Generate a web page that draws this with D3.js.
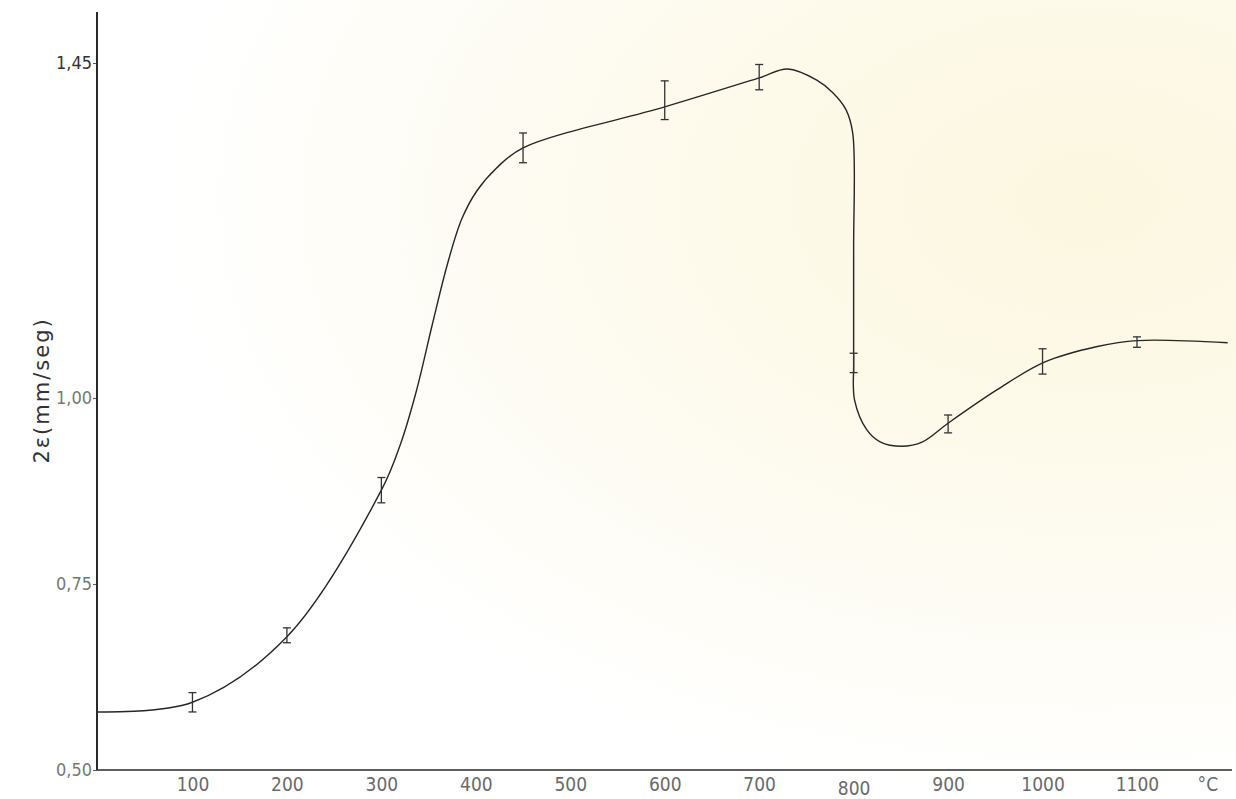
<!DOCTYPE html>
<html>
<head>
<meta charset="utf-8">
<script src="https://cdn.jsdelivr.net/npm/d3@7"></script>
<style>
  html, body { margin: 0; padding: 0; background: #fff; }
  svg { display: block; }
  .tick-label { font-family: "Liberation Sans Narrow", "DejaVu Sans Condensed", "Liberation Sans", sans-serif; }
</style>
</head>
<body>
<svg id="chart" width="1236" height="799"></svg>
<script>
// Measured points: temperature (°C), mean value and half-length of the error bar
const temps = [100, 200, 300, 450, 600, 700, 800, 900, 1000, 1100];
const means = [0.591, 0.681, 0.876, 1.336, 1.400, 1.431, 1.047, 0.965, 1.049, 1.075];
const errs  = [0.013, 0.010, 0.017, 0.020, 0.026, 0.017, 0.013, 0.012, 0.017, 0.007];

// Hand-drawn trend curve through the measurements
const curveT = [0, 100, 200, 300, 320, 337, 354, 370, 385, 401, 422, 450, 600, 700, 730, 761, 778, 792, 799, 800, 800, 801, 814, 828, 851, 873, 900, 952, 1002, 1058, 1100, 1196];
const curveV = [0.578, 0.591, 0.679, 0.876, 0.937, 1.009, 1.099, 1.180, 1.240, 1.278, 1.309, 1.336, 1.391, 1.430, 1.442, 1.427, 1.410, 1.387, 1.356, 1.199, 1.048, 0.997, 0.957, 0.941, 0.935, 0.941, 0.966, 1.011, 1.048, 1.069, 1.077, 1.074];

// Axis ticks
const xTicks = [100, 200, 300, 400, 500, 600, 700, 800, 900, 1000, 1100];
const yTicks = [0.50, 0.75, 1.00, 1.45];
const yTitle = "2ε(mm/seg)";
const xUnit = "°C";

const svg = d3.select("#chart");
const W = 1236, H = 799;

// Faint aged-paper tint toward the right
const defs = svg.append("defs");
const grad = defs.append("radialGradient").attr("id", "paper")
  .attr("cx", "88%").attr("cy", "25%").attr("r", "75%");
grad.append("stop").attr("offset", "0%").attr("stop-color", "#fcf7df");
grad.append("stop").attr("offset", "55%").attr("stop-color", "#fdfbef");
grad.append("stop").attr("offset", "100%").attr("stop-color", "#ffffff");
svg.append("rect").attr("width", W).attr("height", H).attr("fill", "url(#paper)");

const x = d3.scaleLinear().domain([0, 1100]).range([98, 1137]);
const y = d3.scaleLinear().domain([0.5, 1.45]).range([770, 63]);

const axisX0 = 97, axisYTop = 12, axisXEnd = 1232;

// X axis
const gx = svg.append("g").attr("transform", `translate(0,${y(0.5)})`)
  .call(d3.axisBottom(x).tickValues(xTicks).tickSize(0).tickPadding(7).tickFormat(d3.format("d")));
gx.select(".domain").remove();
gx.append("line").attr("x1", axisX0).attr("x2", axisXEnd).attr("y1", 0).attr("y2", 0)
  .attr("stroke", "#2a2a2a").attr("stroke-width", 1.6);
gx.selectAll(".tick text")
  .attr("class", "tick-label")
  .attr("font-size", 19)
  .attr("fill", "#6a6a6a")
  .attr("dy", d => d === 800 ? "0.95em" : "0.75em");

svg.append("text").attr("class", "tick-label")
  .attr("x", x(1175)).attr("y", y(0.5) + 7).attr("dy", "0.75em")
  .attr("text-anchor", "middle").attr("font-size", 19).attr("fill", "#6a6a6a")
  .text(xUnit);

// Y axis
const gy = svg.append("g").attr("transform", `translate(${axisX0},0)`)
  .call(d3.axisLeft(y).tickValues(yTicks).tickSize(4).tickPadding(1)
    .tickFormat(d => d3.format(".2f")(d).replace(".", ",")));
gy.select(".domain").remove();
gy.append("line").attr("x1", 0).attr("x2", 0).attr("y1", axisYTop).attr("y2", y(0.5))
  .attr("stroke", "#2a2a2a").attr("stroke-width", 2);
gy.selectAll(".tick line").attr("stroke", "#555");
gy.selectAll(".tick text")
  .attr("class", "tick-label")
  .attr("font-size", 18)
  .attr("fill", d => d === 1.45 ? "#333" : "#777");

svg.append("text")
  .attr("transform", `translate(49,${y(1.01)}) rotate(-90)`)
  .attr("text-anchor", "middle")
  .attr("font-family", "'DejaVu Sans', sans-serif")
  .attr("font-size", 21).attr("letter-spacing", 2).attr("fill", "#333")
  .text(yTitle);

// Trend curve
const pts = curveT.map((t, i) => [t, curveV[i]]);
svg.append("path")
  .datum(pts)
  .attr("fill", "none")
  .attr("stroke", "#262626")
  .attr("stroke-width", 1.4)
  .attr("d", d3.line().x(d => x(d[0])).y(d => y(d[1])).curve(d3.curveCatmullRom.alpha(0.5)));

// Error bars
const bars = svg.append("g").attr("stroke", "#333").attr("stroke-width", 1.3);
temps.forEach((t, i) => {
  const cx = x(t), y1 = y(means[i] + errs[i]), y2 = y(means[i] - errs[i]);
  bars.append("line").attr("x1", cx).attr("x2", cx).attr("y1", y1).attr("y2", y2);
  bars.append("line").attr("x1", cx - 4).attr("x2", cx + 4).attr("y1", y1).attr("y2", y1);
  bars.append("line").attr("x1", cx - 4).attr("x2", cx + 4).attr("y1", y2).attr("y2", y2);
});
</script>
</body>
</html>
